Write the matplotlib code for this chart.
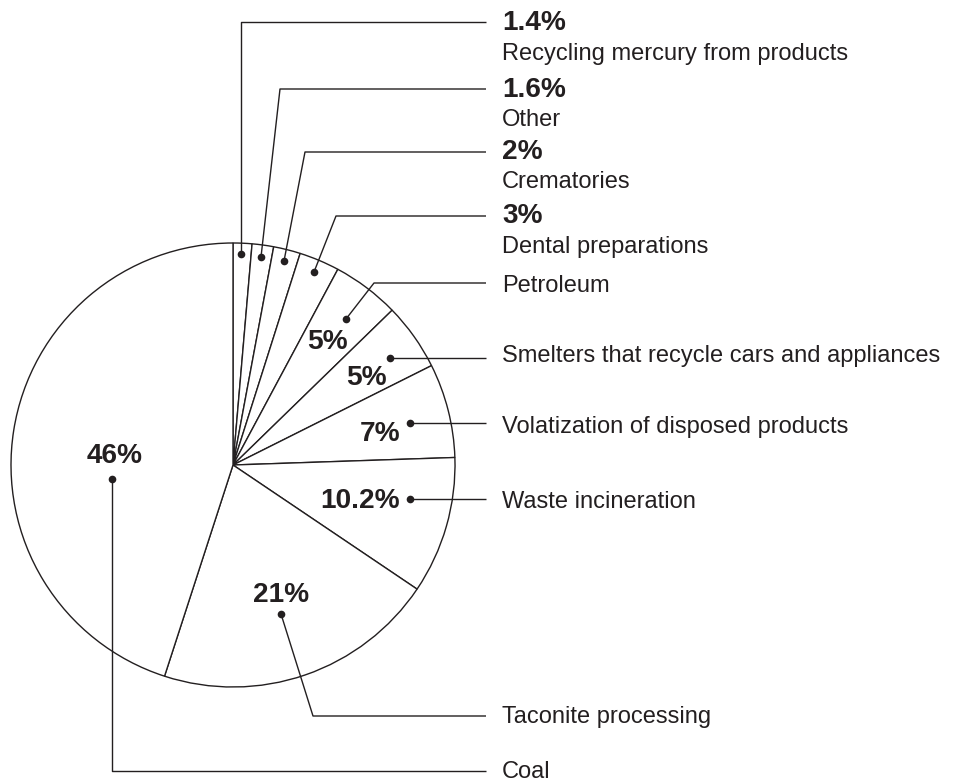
import matplotlib
matplotlib.use("Agg")
import matplotlib.pyplot as plt

# ---- data ----
categories = ["Recycling mercury from products", "Other", "Crematories",
              "Dental preparations", "Petroleum",
              "Smelters that recycle cars and appliances",
              "Volatization of disposed products", "Waste incineration",
              "Taconite processing", "Coal"]
values = [1.4, 1.6, 2, 3, 5, 5, 7, 10.2, 21, 46]
pct_labels = ["1.4%", "1.6%", "2%", "3%", "5%", "5%", "7%", "10.2%", "21%", "46%"]

# ---- layout (pixel coords, y from top) ----
W, H = 957, 783
CX, CY, R = 233, 465, 222
ink = "#231f20"
font = "Liberation Sans"

def Y(y):
    return H - y

dots = [(241, 254), (261, 257), (284, 261), (314, 272), (346, 319),
        (390, 358), (410, 423), (410, 499), (281, 614), (112, 479)]
line_y = [22, 89, 152, 216, 283, 358, 423, 499, 716, 771]
elbow_x = [241, 280, 305, 336, 374, None, None, None, 313, 112]
line_end = 486
text_x = 502
# top group: bold pct baseline, name baseline
top_pct_base = [30, 97, 159, 223]
top_name_base = [60, 126, 188, 253]
other_name_base = [292, 362, 433, 508, 723, 778]
# in-pie pct labels (center x, baseline y) for indices 4..9
in_pct = [(327, 349), (366, 385), (380, 441), (360, 508), (281, 602), (115, 463)]

fig = plt.figure(figsize=(W / 100, H / 100), dpi=100)
ax = fig.add_axes([0, 0, 1, 1])
ax.pie(values, startangle=90, counterclock=False, center=(CX, Y(CY)), radius=R,
       wedgeprops=dict(facecolor="white", edgecolor=ink, linewidth=1.0))
ax.set_xlim(0, W)
ax.set_ylim(0, H)
ax.set_aspect("equal")
ax.axis("off")

for i in range(len(values)):
    dx, dy = dots[i]
    ly = line_y[i]
    if elbow_x[i] is None:
        xs = [dx, line_end]
        ys = [dy, dy]
    else:
        xs = [dx, elbow_x[i], line_end]
        ys = [dy, ly, ly]
    ax.plot(xs, [Y(v) for v in ys], color=ink, lw=1.0, solid_capstyle="butt")
    ax.plot([dx], [Y(dy)], "o", color=ink, ms=5.5, mew=0)

BOLD = 20.2
REG = 17

for i in range(4):
    ax.text(text_x, Y(top_pct_base[i]), pct_labels[i], fontsize=BOLD,
            fontweight="bold", family=font, color=ink, va="baseline", ha="left")
    ax.text(text_x, Y(top_name_base[i]), categories[i], fontsize=REG,
            family=font, color=ink, va="baseline", ha="left")

for j, i in enumerate(range(4, 10)):
    ax.text(text_x, Y(other_name_base[j]), categories[i], fontsize=REG,
            family=font, color=ink, va="baseline", ha="left")
    px, py = in_pct[j]
    ax.text(px, Y(py), pct_labels[i], fontsize=BOLD, fontweight="bold",
            family=font, color=ink, va="baseline", ha="center")

fig.savefig("out.png", dpi=100, facecolor="white")
